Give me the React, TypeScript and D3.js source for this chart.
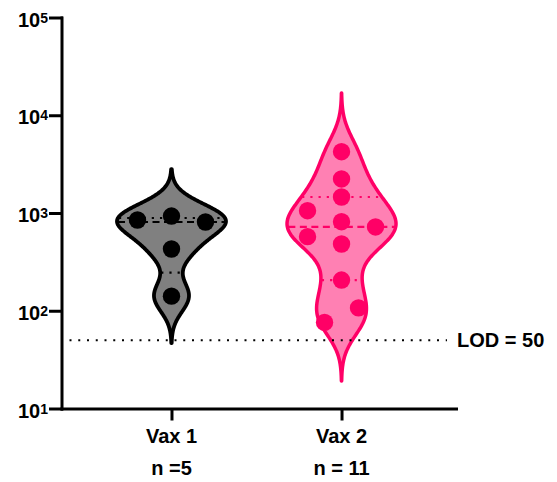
import { useEffect, useRef } from "react";
import * as d3 from "d3";

// values (titer, log axis)
const groups = ["Vax 1", "Vax 2"];
const groupCounts = ["n =5", "n = 11"];
const vax1Titers = [848, 931, 809, 428, 141];
const vax1Jitter = [-2, 0, 2, 0, 0];
const vax2Titers = [4236, 2230, 1458, 1056, 815, 720, 573, 482, 206, 107, 76];
const vax2Jitter = [0, 0, 0, -2, 0, 2, -2, 0, 0, 1, -1];
const yTickValues = [10, 100, 1000, 10000, 100000];
const yTickExponents = ["1", "2", "3", "4", "5"];
const lodValue = 50;
const lodLabel = "LOD = 50";

const series = [
  { titers: vax1Titers, jitter: vax1Jitter, bw: 0.16, fill: "#808080", stroke: "#000000", dot: "#000000", sw: 3.8 },
  { titers: vax2Titers, jitter: vax2Jitter, bw: 0.2, fill: "#ff80b3", stroke: "#ff0066", dot: "#ff0066", sw: 3.5 },
];

const FONT = "'Liberation Sans', Arial, sans-serif";

// quantile with (n+1)p positions, in log space
function quant(sortedLogs: number[], p: number) {
  const pos = (sortedLogs.length + 1) * p - 1;
  const lo = Math.floor(pos), hi = Math.ceil(pos);
  return sortedLogs[lo] + (sortedLogs[hi] - sortedLogs[lo]) * (pos - lo);
}

export default function App() {
  const svgRef = useRef<SVGSVGElement>(null);

  useEffect(() => {
    const svg = d3.select(svgRef.current);
    svg.selectAll("*").remove();

    const width = 557, height = 482;
    const left = 61.5, right = 456, top = 17.5, bottom = 408.5;

    const y = d3.scaleLog().domain([10, 100000]).range([bottom, top]);
    const x = d3.scalePoint<string>().domain(groups).range([left, right]).padding(0.66).align(0.49);
    const maxHalf = 54.5;
    const jitterStep = 17;

    // violins
    series.forEach((s, i) => {
      const cx = x(groups[i])!;
      const logs = s.titers.map(v => Math.log10(v));
      const h = s.bw;
      const dens = (t: number) => d3.sum(logs, v => Math.exp(-0.5 * ((t - v) / h) ** 2));
      const lo = d3.min(logs)! - 3 * h, hi = d3.max(logs)! + 3 * h;
      const pts = d3.range(301).map(k => {
        const t = lo + (hi - lo) * k / 300;
        return [t, dens(t)] as [number, number];
      });
      const maxD = d3.max(pts, p => p[1])!;
      const w = (d: number) => (d / maxD) * maxHalf;

      const area = d3.area<[number, number]>()
        .y(p => y(10 ** p[0]))
        .x0(p => cx - w(p[1]))
        .x1(p => cx + w(p[1]))
        .curve(d3.curveBasis);

      svg.append("path").attr("d", area(pts))
        .attr("fill", s.fill).attr("stroke", s.stroke)
        .attr("stroke-width", s.sw).attr("stroke-linejoin", "round");

      const sorted = [...logs].sort((a, b) => a - b);
      const lines = [
        { t: quant(sorted, 0.5), dash: "7 4.5" },
        { t: quant(sorted, 0.25), dash: "2.2 6" },
        { t: quant(sorted, 0.75), dash: "2.2 6" },
      ];
      lines.forEach(l => {
        const hw = w(dens(l.t)) - 1;
        svg.append("line")
          .attr("x1", cx - hw).attr("x2", cx + hw)
          .attr("y1", y(10 ** l.t)).attr("y2", y(10 ** l.t))
          .attr("stroke", s.stroke).attr("stroke-width", 2.2)
          .attr("stroke-dasharray", l.dash);
      });
    });

    // LOD line
    svg.append("line")
      .attr("x1", left + 8).attr("x2", 447)
      .attr("y1", y(lodValue)).attr("y2", y(lodValue))
      .attr("stroke", "#000").attr("stroke-width", 2)
      .attr("stroke-dasharray", "2 6.75");
    svg.append("text")
      .attr("x", 457).attr("y", y(lodValue) + 7)
      .style("font-family", FONT).style("font-size", "20px").style("font-weight", "bold")
      .text(lodLabel);

    // points
    series.forEach((s, i) => {
      const cx = x(groups[i])!;
      svg.append("g").selectAll("circle").data(s.titers).enter().append("circle")
        .attr("cx", (_, k) => cx + s.jitter[k] * jitterStep)
        .attr("cy", d => y(d))
        .attr("r", 8.7)
        .attr("fill", s.dot);
    });

    // y axis
    const yAxis = svg.append("g").attr("transform", `translate(${left},0)`)
      .call(d3.axisLeft(y).tickValues(yTickValues).tickSize(11).tickSizeOuter(0).tickFormat(() => ""));
    yAxis.selectAll("path, line").attr("stroke", "#000").attr("stroke-width", 3).attr("stroke-linecap", "square");
    yAxis.select(".domain").attr("stroke-linecap", "square");

    const yLabels = svg.append("g");
    yTickValues.forEach((v, k) => {
      const t = yLabels.append("text")
        .attr("x", 48).attr("y", y(v) + 9)
        .attr("text-anchor", "end")
        .style("font-family", FONT).style("font-size", "20px").style("font-weight", "bold");
      t.append("tspan").text("10");
      t.append("tspan").attr("dy", -4).style("font-size", "14px").text(yTickExponents[k]);
    });

    // x axis
    const xAxis = svg.append("g").attr("transform", `translate(0,${bottom})`)
      .call(d3.axisBottom(x).tickSize(12).tickSizeOuter(0).tickFormat(() => ""));
    xAxis.selectAll("path, line").attr("stroke", "#000").attr("stroke-width", 3);
    xAxis.select(".domain").attr("stroke-linecap", "square");

    groups.forEach((g, i) => {
      svg.append("text").attr("x", x(g)!).attr("y", 443)
        .attr("text-anchor", "middle")
        .style("font-family", FONT).style("font-size", "20px").style("font-weight", "bold")
        .text(g);
      svg.append("text").attr("x", x(g)!).attr("y", 475)
        .attr("text-anchor", "middle")
        .style("font-family", FONT).style("font-size", "20px").style("font-weight", "bold")
        .text(groupCounts[i]);
    });

    svg.attr("viewBox", `0 0 ${width} ${height}`);
  }, []);

  return (
    <svg ref={svgRef} width={557} height={482}
      style={{ position: "absolute", left: 0, top: 0, background: "#fff" }} />
  );
}
